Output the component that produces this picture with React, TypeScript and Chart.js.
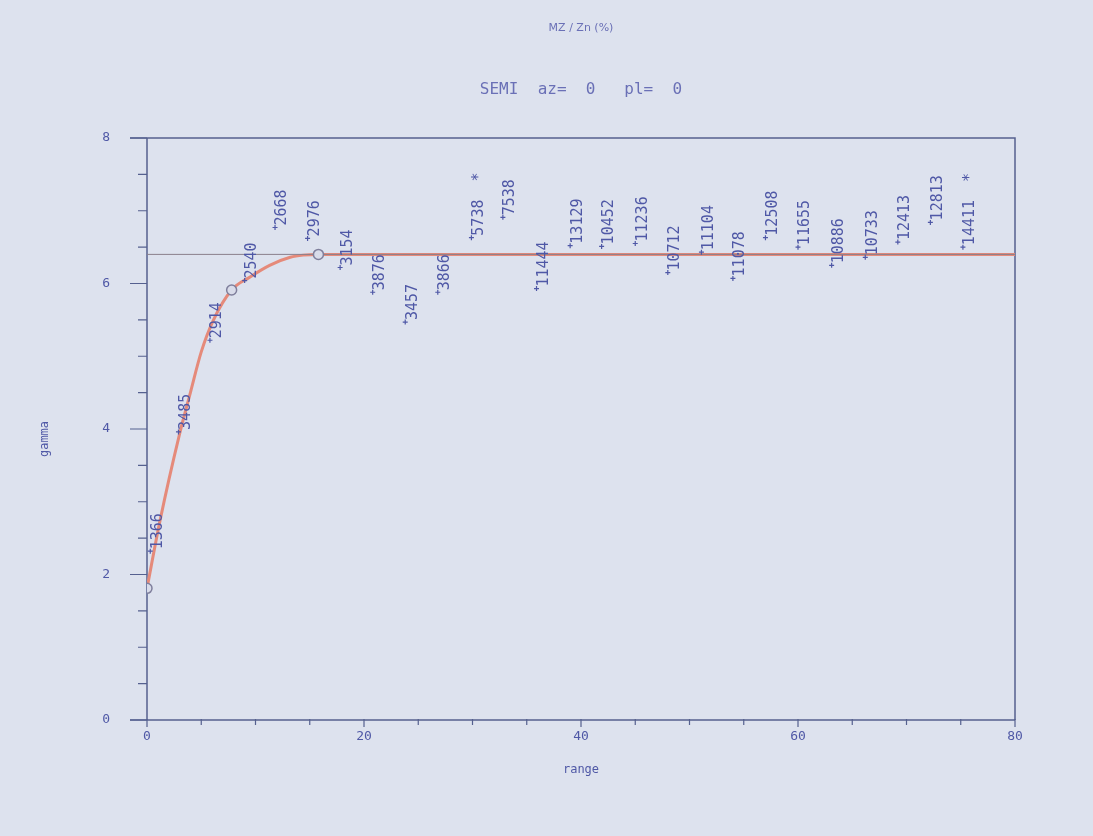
import React, { useEffect, useRef } from "react";
import { Chart, registerables } from "chart.js";

Chart.register(...registerables);

// Experimental semivariogram: lag distance, gamma, number of pairs
const lagDist = [0.3, 2.9, 5.8, 9.0, 11.8, 14.8, 17.8, 20.8, 23.8, 26.8, 29.9, 32.8, 35.9, 39.0, 41.9, 45.0, 48.0, 51.1, 54.0, 57.0, 60.0, 63.1, 66.2, 69.2, 72.2, 75.2];
const gammaVals = [2.32, 3.96, 5.22, 6.04, 6.77, 6.62, 6.22, 5.88, 5.47, 5.88, 6.63, 6.91, 5.93, 6.52, 6.51, 6.55, 6.15, 6.43, 6.07, 6.63, 6.5, 6.25, 6.36, 6.57, 6.84, 6.5];
const pairCounts = ["1366", "3485", "2914", "2540", "2668", "2976", "3154", "3876", "3457", "3866", "5738", "7538", "11444", "13129", "10452", "11236", "10712", "11104", "11078", "12508", "11655", "10886", "10733", "12413", "12813", "14411"];
const starredLags = [10, 25];

// Fitted model curve
const modelX = [0, 1.2, 3.0, 4.0, 5.0, 6.1, 7.8, 9.5, 11.3, 13.2, 14.4, 15.8, 80];
const modelY = [1.81, 2.74, 3.93, 4.5, 5.06, 5.49, 5.91, 6.09, 6.25, 6.36, 6.39, 6.4, 6.4];

// Circle markers on the model
const knotX = [0, 7.8, 15.8];
const knotY = [1.81, 5.91, 6.4];

// Sill line
const sillX = [0, 80];
const sillY = [6.4, 6.4];

const xTickLabels = [0, 20, 40, 60, 80];
const yTickLabels = [0, 2, 4, 6, 8];

const titleTop = "MZ / Zn (%)";
const titleMain = "SEMI  az=  0   pl=  0";
const xTitle = "range";
const yTitle = "gamma";

const AXIS = "#55608f";
const TEXT = "#4f58a6";
const TITLE = "#6a70b6";
const MONO = "'DejaVu Sans Mono', 'Liberation Mono', monospace";

export default function App() {
  const ref = useRef<HTMLCanvasElement | null>(null);

  useEffect(() => {
    document.body.style.margin = "0";
    const canvas = ref.current;
    if (!canvas) return;

    const deco = {
      id: "deco",
      beforeDraw(chart: any) {
        const c = chart.ctx;
        c.save();
        c.fillStyle = "#dde2ee";
        c.fillRect(0, 0, chart.width, chart.height);
        c.restore();
      },
      beforeDatasetsDraw(chart: any) {
        const c = chart.ctx;
        const xs = chart.scales.x;
        const ys = chart.scales.y;
        const l = xs.getPixelForValue(0);
        const r = xs.getPixelForValue(80);
        const t = ys.getPixelForValue(8);
        const b = ys.getPixelForValue(0);
        c.save();
        c.strokeStyle = AXIS;
        c.lineWidth = 1.5;
        c.beginPath();
        c.moveTo(l, b);
        c.lineTo(l, t);
        c.moveTo(l - 17, t);
        c.lineTo(r, t);
        c.lineTo(r, b);
        c.moveTo(l - 17, b);
        c.lineTo(r, b);
        c.stroke();
        c.lineWidth = 1.2;
        c.beginPath();
        ys.ticks.forEach((tk: any) => {
          const py = ys.getPixelForValue(tk.value);
          const major = Math.abs(tk.value % 2) < 1e-6;
          c.moveTo(l, py);
          c.lineTo(l - (major ? 17 : 9), py);
        });
        xs.ticks.forEach((tk: any) => {
          const px = xs.getPixelForValue(tk.value);
          const major = Math.abs(tk.value % 20) < 1e-6;
          c.moveTo(px, b - 1);
          c.lineTo(px, b + (major ? 7 : 5));
        });
        c.stroke();

        // titles
        const cx = (l + r) / 2;
        c.fillStyle = TITLE;
        c.textAlign = "center";
        c.textBaseline = "middle";
        c.font = `11px 'Liberation Sans Narrow', 'DejaVu Sans', sans-serif`;
        c.fillText(titleTop, cx, 28);
        c.font = `16px ${MONO}`;
        c.fillText(titleMain, cx, 90);
        c.font = `12px ${MONO}`;
        c.fillStyle = TEXT;
        c.fillText(xTitle, cx, b + 50);
        c.save();
        c.translate(45, (t + b) / 2 + 10);
        c.rotate(-Math.PI / 2);
        c.fillText(yTitle, 0, 0);
        c.restore();
        c.restore();
      },
      afterDatasetsDraw(chart: any) {
        const c = chart.ctx;
        const meta = chart.getDatasetMeta(3);
        c.save();
        c.fillStyle = TEXT;
        c.font = `15px ${MONO}`;
        c.textAlign = "left";
        c.textBaseline = "top";
        meta.data.forEach((pt: any, i: number) => {
          const txt = pairCounts[i] + (starredLags.includes(i) ? "  *" : "");
          c.save();
          c.translate(pt.x, pt.y - 2);
          c.rotate(-Math.PI / 2);
          c.fillText(txt, 0, 0);
          c.restore();
        });
        c.restore();
      },
    };

    const chart = new Chart(canvas, {
      type: "scatter",
      data: {
        datasets: [
          {
            type: "line",
            order: 3,
            data: modelX.map((x, i) => ({ x, y: modelY[i] })),
            borderColor: "#e58a7a",
            borderWidth: 3,
            pointRadius: 0,
            cubicInterpolationMode: "monotone",
            fill: false,
          },
          {
            type: "line",
            order: 2,
            data: sillX.map((x, i) => ({ x, y: sillY[i] })),
            borderColor: "#8a7f8c",
            borderWidth: 1,
            pointRadius: 0,
            fill: false,
          },
          {
            order: 1,
            data: knotX.map((x, i) => ({ x, y: knotY[i] })),
            pointStyle: "circle",
            pointRadius: 5,
            borderColor: "#7f7f9c",
            backgroundColor: "#d9dcea",
            borderWidth: 1.5,
          },
          {
            order: 0,
            data: lagDist.map((x, i) => ({ x, y: gammaVals[i] })),
            pointStyle: "cross",
            pointRadius: 2.5,
            borderColor: TEXT,
            borderWidth: 1.2,
          },
        ],
      } as any,
      options: {
        animation: false,
        responsive: false,
        layout: { padding: { left: 0, top: 138, right: 78, bottom: 56 } },
        plugins: { legend: { display: false }, tooltip: { enabled: false }, title: { display: false } },
        scales: {
          x: {
            type: "linear",
            min: 0,
            max: 80,
            border: { display: false },
            grid: { display: false, drawTicks: false },
            afterBuildTicks: (s: any) => {
              const arr: any[] = [];
              for (let v = 0; v <= 80; v += 5) arr.push({ value: v });
              s.ticks = arr;
            },
            afterFit: (s: any) => {
              s.height = 60;
            },
            ticks: {
              padding: 9,
              color: TEXT,
              font: { family: MONO, size: 13 },
              maxRotation: 0,
              autoSkip: false,
              callback: (v: any) => (xTickLabels.includes(Number(v)) ? String(v) : ""),
            },
          },
          y: {
            type: "linear",
            min: 0,
            max: 8,
            border: { display: false },
            grid: { display: false, drawTicks: false },
            afterBuildTicks: (s: any) => {
              const arr: any[] = [];
              for (let v = 0; v <= 8.0001; v += 0.5) arr.push({ value: v });
              s.ticks = arr;
            },
            afterFit: (s: any) => {
              s.width = 147;
            },
            ticks: {
              padding: 37,
              color: TEXT,
              font: { family: MONO, size: 13 },
              autoSkip: false,
              callback: (v: any) => (yTickLabels.includes(Number(v)) ? String(v) : ""),
            },
          },
        },
      } as any,
      plugins: [deco],
    });

    return () => chart.destroy();
  }, []);

  return <canvas ref={ref} width={1093} height={836} style={{ display: "block" }} />;
}
